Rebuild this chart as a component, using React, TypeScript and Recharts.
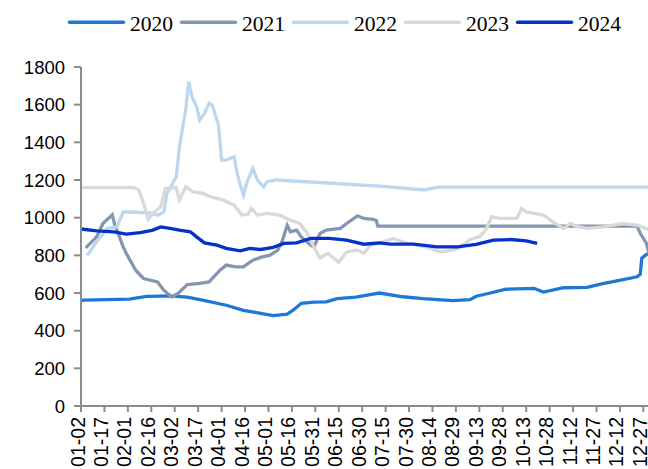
import React from 'react';
import { LineChart, Line, XAxis, YAxis } from 'recharts';

const seriesNames = ['2020', '2021', '2022', '2023', '2024'];
const seriesColors = ['#1E78D6', '#8497B0', '#BDD7EE', '#D9D9D9', '#0631C8'];

const tickLabels = [
    '01-02', '01-17', '02-01', '02-16', '03-02', '03-17', '04-01', '04-16', '05-01',
    '05-16', '05-31', '06-15', '06-30', '07-15', '07-30', '08-14', '08-29', '09-13',
    '09-28', '10-13', '10-28', '11-12', '11-27', '12-12', '12-27'
];

const yTicks = [0, 200, 400, 600, 800, 1000, 1200, 1400, 1600, 1800];

// days counted from 01-02
const days2020 = [0, 2, 31, 42, 57, 68, 80, 93, 104, 115, 123, 132, 136, 141, 149, 157, 164, 176, 185, 191, 206, 219, 238, 249, 253, 260, 272, 290, 296, 309, 324, 334, 343, 356, 358, 359, 362, 366];
const vals2020 = [560, 562, 568, 582, 585, 578, 558, 535, 508, 492, 480, 488, 510, 545, 552, 553, 570, 578, 592, 600, 580, 570, 560, 565, 583, 596, 620, 625, 605, 628, 630, 650, 665, 686, 700, 785, 805, 810];

const days2021 = [3, 10, 14, 20, 22, 23, 27, 29, 35, 40, 49, 53, 58, 62, 68, 76, 82, 89, 93, 99, 104, 110, 116, 121, 126, 129, 132, 134, 138, 141, 147, 149, 153, 157, 166, 170, 177, 181, 187, 189, 190, 356, 358, 362, 364];
const vals2021 = [840, 898, 969, 1015, 951, 934, 845, 810, 721, 677, 659, 615, 579, 597, 645, 651, 659, 721, 748, 739, 739, 774, 792, 801, 828, 881, 960, 925, 934, 898, 854, 845, 916, 934, 943, 969, 1010, 996, 991, 985, 955, 955, 917, 863, 800];

const days2022 = [4, 10, 17, 23, 27, 29, 44, 49, 53, 55, 61, 63, 67, 69, 71, 74, 76, 79, 82, 84, 88, 90, 93, 98, 100, 102, 104, 106, 110, 113, 117, 119, 125, 191, 220, 228, 370];
const vals2022 = [800, 872, 944, 951, 1030, 1030, 1025, 1013, 1031, 1129, 1217, 1377, 1572, 1722, 1642, 1589, 1518, 1554, 1607, 1598, 1492, 1306, 1306, 1323, 1235, 1173, 1120, 1182, 1262, 1200, 1164, 1191, 1200, 1168, 1147, 1162, 1162];

const days2023 = [0, 34, 37, 40, 43, 46, 51, 54, 61, 63, 67, 72, 78, 83, 91, 98, 103, 107, 109, 113, 119, 127, 134, 140, 145, 149, 153, 158, 165, 170, 177, 181, 185, 200, 209, 221, 230, 238, 243, 249, 255, 259, 263, 268, 279, 282, 285, 296, 302, 309, 313, 317, 324, 334, 347, 356, 366];
const vals2023 = [1160, 1160, 1146, 1076, 991, 1023, 1058, 1155, 1160, 1093, 1164, 1137, 1129, 1111, 1093, 1067, 1014, 1019, 1049, 1014, 1023, 1014, 987, 969, 916, 845, 785, 811, 763, 818, 828, 811, 850, 890, 863, 845, 818, 828, 845, 884, 898, 934, 1005, 996, 996, 1049, 1031, 1014, 978, 943, 969, 955, 943, 951, 969, 960, 930];

const days2024 = [0, 10, 21, 29, 38, 46, 51, 57, 63, 70, 74, 79, 87, 93, 102, 108, 115, 123, 130, 138, 147, 159, 170, 181, 191, 198, 213, 228, 241, 253, 264, 275, 285, 292];
const vals2024 = [940, 930, 925, 913, 920, 934, 951, 943, 934, 925, 898, 866, 854, 837, 824, 837, 831, 842, 863, 866, 890, 890, 881, 859, 866, 859, 859, 845, 845, 858, 881, 884, 877, 863];

const seriesDays = [days2020, days2021, days2022, days2023, days2024];
const seriesVals = [vals2020, vals2021, vals2022, vals2023, vals2024];

// merge into one table keyed by day
const rowsByDay = new Map<number, Record<string, number>>();
seriesDays.forEach((days, s) => {
    days.forEach((d, i) => {
        const row = rowsByDay.get(d) || { day: d };
        row[seriesNames[s]] = seriesVals[s][i];
        rowsByDay.set(d, row);
    });
});
const data = Array.from(rowsByDay.values()).sort((a, b) => a.day - b.day);

const AXIS_COLOR = '#8C8C8C';
const FONT = '"Liberation Sans", Arial, sans-serif';

function XTick({ x, y, payload }: any) {
    return (
        <text
            x={x}
            y={y}
            transform={`rotate(-90, ${x}, ${y})`}
            textAnchor="end"
            dy="0.18em"
            fontSize={19.5}
            fontFamily={FONT}
            fill="#000"
        >
            {tickLabels[Math.round(payload.value / 15)]}
        </text>
    );
}

function TopLegend() {
    return (
        <svg width={648} height={45} style={{ position: 'absolute', left: 0, top: 0 }}>
            {seriesNames.map((name, i) => {
                const x0 = 68 + i * 112;
                return (
                    <g key={name}>
                        <line x1={x0 + 1.5} y1={22.3} x2={x0 + 55.5} y2={22.3} stroke={seriesColors[i]} strokeWidth={3.4} strokeLinecap="round" />
                        <text x={x0 + 62} y={31} fontSize={21.5} fontFamily='"Liberation Serif", "Times New Roman", serif' fill="#000">
                            {name}
                        </text>
                    </g>
                );
            })}
        </svg>
    );
}

export default function App() {
    return (
        <div style={{ position: 'fixed', left: 0, top: 0, width: 648, height: 469, overflow: 'hidden', background: '#fff' }}>
            <TopLegend />
            <LineChart width={660} height={469} data={data} margin={{ top: 67, right: 1, left: 0, bottom: 3 }}>
                <XAxis
                    dataKey="day"
                    type="number"
                    domain={[0, 370]}
                    allowDataOverflow
                    ticks={tickLabels.map((_, i) => i * 15)}
                    interval={0}
                    height={60}
                    stroke={AXIS_COLOR}
                    strokeWidth={2}
                    tickSize={6}
                    tickMargin={5}
                    tick={<XTick />}
                />
                <YAxis
                    domain={[0, 1800]}
                    ticks={yTicks}
                    interval={0}
                    width={81}
                    stroke={AXIS_COLOR}
                    strokeWidth={2}
                    tickSize={7}
                    tickMargin={9}
                    tick={{ fill: '#000', fontSize: 18.5, fontFamily: FONT }}
                />
                {seriesNames.map((name, i) => (
                    <Line
                        key={name}
                        type="linear"
                        dataKey={name}
                        stroke={seriesColors[i]}
                        strokeWidth={3.3}
                        dot={false}
                        connectNulls
                        isAnimationActive={false}
                    />
                ))}
            </LineChart>
        </div>
    );
}
